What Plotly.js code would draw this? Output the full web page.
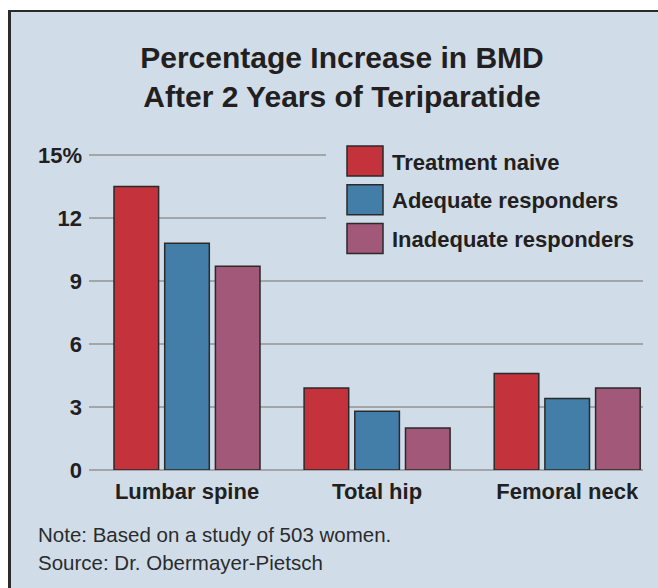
<!DOCTYPE html>
<html>
<head>
<meta charset="utf-8">
<script src="https://cdn.plot.ly/plotly-3.0.1.min.js"></script>
<style>
  html, body { margin: 0; padding: 0; background: #ffffff; width: 658px; height: 588px; overflow: hidden; }
  #frame { position: absolute; left: 8px; top: 10px; width: 660px; height: 590px;
           border-left: 3px solid #2b2b2b; border-top: 2px solid #2b2b2b;
           background: #d0dde9; overflow: hidden; }
  #chart { width: 647px; height: 576px; }
</style>
</head>
<body>
<div id="frame"><div id="chart"></div></div>
<script>
// ---- data ----
const categories = ['Lumbar spine', 'Total hip', 'Femoral neck'];
const treatmentNaive = [13.5, 3.9, 4.6];
const adequateResponders = [10.8, 2.8, 3.4];
const inadequateResponders = [9.7, 2.0, 3.9];
const seriesNames = ['Treatment naive', 'Adequate responders', 'Inadequate responders'];
const yTickVals = [0, 3, 6, 9, 12, 15];
const yTickText = ['0', '3', '6', '9', '12', '15%'];
const titleLines = ['Percentage Increase in BMD', 'After 2 Years of Teriparatide'];
const noteText = 'Note: Based on a study of 503 women.';
const sourceText = 'Source: Dr. Obermayer-Pietsch';

// ---- styling ----
const seriesColors = ['#c4323c', '#437ea8', '#a25878'];
const BG = '#d0dde9';
const INK = '#231f20';
const GRID = '#a3a6a9';
const FONT = 'Liberation Sans, Arial, sans-serif';

// page-pixel geometry of the plot area
const OX = 11, OY = 12;           // chart div offset on the page
const W = 647, H = 576;
const UNIT = 21;                  // px per 1% on the y axis
const PL = 89, PR = 643, PT = 152, PB = 470;
const px = x => (x - PL) / (PR - PL);
const py = y => (PB - y) / (PB - PT);

const seriesValues = [treatmentNaive, adequateResponders, inadequateResponders];
const traces = seriesValues.map((vals, i) => ({
  type: 'bar',
  name: seriesNames[i],
  x: categories,
  y: vals,
  marker: { color: seriesColors[i], line: { color: '#2a2a2a', width: 1.5 } },
  hoverinfo: 'x+y+name',
  showlegend: false
}));

// custom legend (large swatches)
const shapes = [{
  type: 'rect', xref: 'paper', yref: 'paper', layer: 'above',
  x0: px(326), x1: px(PR + 2), y0: py(263), y1: py(138),
  fillcolor: BG, line: { width: 0 }
}];
const annotations = [];
const legTop = 146, legPitch = 38.7, swW = 36, swH = 30, swX = 347;
seriesNames.forEach((name, i) => {
  const top = legTop + i * legPitch;
  shapes.push({
    type: 'rect', xref: 'paper', yref: 'paper', layer: 'above',
    x0: px(swX), x1: px(swX + swW), y0: py(top + swH), y1: py(top),
    fillcolor: seriesColors[i], line: { color: '#2a2a2a', width: 1.5 }
  });
  annotations.push({
    xref: 'paper', yref: 'paper', x: px(390), y: py(top + swH / 2 + 1),
    xanchor: 'left', yanchor: 'middle', showarrow: false,
    text: '<b>' + name + '</b>', font: { family: FONT, size: 22, color: INK }
  });
});
// footer
annotations.push({
  xref: 'paper', yref: 'paper', x: px(36), y: py(534), xanchor: 'left', yanchor: 'middle',
  showarrow: false, text: noteText, font: { family: FONT, size: 20.5, color: '#2b2b2b' }
});
annotations.push({
  xref: 'paper', yref: 'paper', x: px(36), y: py(562), xanchor: 'left', yanchor: 'middle',
  showarrow: false, text: sourceText, font: { family: FONT, size: 20.5, color: '#2b2b2b' }
});

// x range so that category centers land where they should
const c0 = 187, pitch = 190.1;
const xr = [(PL - c0) / pitch, (PR - c0) / pitch];

const layout = {
  width: W, height: H,
  paper_bgcolor: BG, plot_bgcolor: 'rgba(0,0,0,0)',
  margin: { l: PL - OX, r: OX + W - PR, t: PT - OY, b: OY + H - PB, pad: 0 },
  title: {
    text: '<b>' + titleLines.join('<br>') + '</b>',
    font: { family: FONT, size: 30, color: INK },
    xref: 'paper', x: px(342), xanchor: 'center',
    yref: 'container', y: 1 - (68 - OY) / H, yanchor: 'top'
  },
  barmode: 'group', bargap: 0.2, bargroupgap: 0.12,
  showlegend: false,
  xaxis: {
    type: 'category', range: xr, showgrid: false, zeroline: false, showline: false,
    ticks: '', ticklabelstandoff: 6,
    tickfont: { family: FONT, size: 22, color: INK, weight: 'bold' }
  },
  yaxis: {
    range: [0, (PB - PT) / UNIT], tickvals: yTickVals, ticktext: yTickText,
    showgrid: true, gridcolor: GRID, gridwidth: 2.5,
    zeroline: true, zerolinecolor: GRID, zerolinewidth: 2.5,
    showline: false, ticks: '', ticklabelstandoff: 6,
    tickfont: { family: FONT, size: 22, color: INK, weight: 'bold' }
  },
  shapes: shapes,
  annotations: annotations,
  font: { family: FONT, color: INK }
};

Plotly.newPlot('chart', traces, layout, { displayModeBar: false, staticPlot: true });
</script>
</body>
</html>
